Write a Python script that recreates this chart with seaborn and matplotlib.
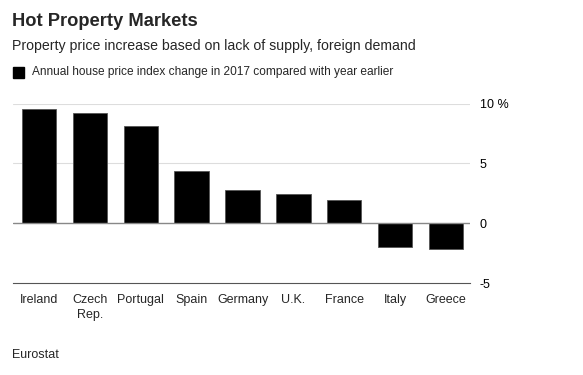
import matplotlib
matplotlib.use("Agg")
import matplotlib.pyplot as plt
import seaborn as sns
import pandas as pd

# --- DATA ---
countries = ["Ireland", "Czech\nRep.", "Portugal", "Spain", "Germany", "U.K.", "France", "Italy", "Greece"]
change_2017 = [9.55, 9.2, 8.1, 4.35, 2.8, 2.45, 1.9, -1.95, -2.15]
y_ticks = [-5, 0, 5, 10]
y_tick_labels = ["-5", "0", "5", "10 %"]

df = pd.DataFrame({"Country": countries, "Change": change_2017})

# --- STYLE ---
sns.set_style("white")
plt.rcParams["font.family"] = ["Liberation Sans", "DejaVu Sans"]

fig = plt.figure(figsize=(5.83, 3.75), dpi=100)
ax = fig.add_axes([13 / 583, 1 - 283 / 375, (470 - 13) / 583, (283 - 103.5) / 375])

sns.barplot(data=df, x="Country", y="Change", color="black", width=0.675,
            edgecolor="#555555", linewidth=0.6, saturation=1, ax=ax, zorder=3)

ax.set_ylim(-5, 10)
ax.set_xlim(-0.51, 8.47)
ax.set_yticks(y_ticks)
ax.set_yticklabels(y_tick_labels)
ax.yaxis.tick_right()
ax.tick_params(axis="y", length=0, pad=7, labelsize=9, colors="black")
ax.tick_params(axis="x", length=4, width=0.8, color="#555555", direction="out",
               labelsize=9, pad=4)
for lbl in ax.get_xticklabels():
    lbl.set_linespacing(1.35)
ax.set_xlabel("")
ax.set_ylabel("")

# gridlines and zero line
for v in [5, 10]:
    ax.axhline(v, color="#dddddd", linewidth=0.8, zorder=1)
ax.axhline(0, color="#888888", linewidth=1.0, zorder=4)

for s in ["top", "left", "right"]:
    ax.spines[s].set_visible(False)
ax.spines["bottom"].set_color("#555555")
ax.spines["bottom"].set_linewidth(0.8)

# --- TEXT ---
fig.text(12 / 583, 1 - 22 / 375, "Hot Property Markets", fontsize=13.2, fontweight="bold",
         va="center", ha="left")
fig.text(12 / 583, 1 - 46 / 375, "Property price increase based on lack of supply, foreign demand",
         fontsize=10.2, va="center", ha="left")
fig.patches.append(plt.Rectangle((13 / 583, 1 - 78 / 375), 11 / 583, 11 / 375,
                                 transform=fig.transFigure, color="black", figure=fig))
fig.text(32 / 583, 1 - 72.5 / 375, "Annual house price index change in 2017 compared with year earlier",
         fontsize=8.6, va="center", ha="left")
fig.text(12 / 583, 1 - 355 / 375, "Eurostat", fontsize=9, va="center", ha="left")

fig.savefig("out.png", dpi=100)
